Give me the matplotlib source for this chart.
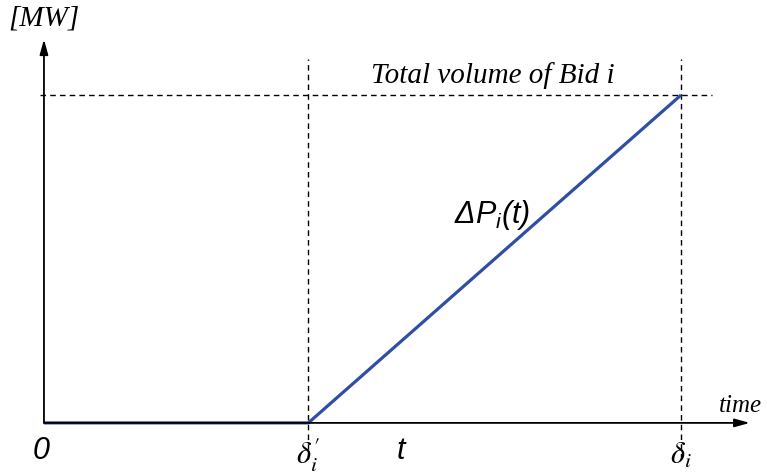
import matplotlib.pyplot as plt

# ramp of bid i: flat until delta'_i, then linear up to full volume at delta_i
ramp_time = [0.0, 4.15, 10.0]
ramp_power = [0.0, 0.0, 1.0]

t_start = ramp_time[1]
t_end = ramp_time[2]
full_volume = ramp_power[2]

blue = "#2f4fa5"

plt.rcParams["mathtext.fontset"] = "custom"
plt.rcParams["mathtext.rm"] = "Liberation Sans"
plt.rcParams["mathtext.it"] = "Liberation Sans:italic"

fig = plt.figure(figsize=(7.67, 4.76), dpi=100)
ax = fig.add_axes([0, 0, 1, 1])
ax.set_xlim(-0.69, 11.35)
ax.set_ylim(-0.162, 1.29)
ax.axis("off")

# axes with arrow heads
arrow = dict(arrowstyle="-|>,head_length=0.9,head_width=0.25", color="black",
             lw=1.3, shrinkA=0, shrinkB=0)
ax.annotate("", xy=(11.08, 0), xytext=(0, 0), arrowprops=arrow)
ax.annotate("", xy=(0, 1.17), xytext=(0, 0), arrowprops=arrow)

# dashed guides
ax.plot([-0.06, 10.49], [full_volume, full_volume], color="black", lw=1.0,
        ls=(0, (4, 3)))
for tx in (t_start, t_end):
    ax.plot([tx, tx], [-0.11, 1.11], color="black", lw=1.0, ls=(0, (4, 3)))

ax.plot(ramp_time, ramp_power, color=blue, lw=2.3, solid_capstyle="butt")

serif_it = dict(family="Liberation Serif", style="italic")
sans_it = dict(family="Liberation Sans", style="italic")

ax.text(0, 1.235, "[MW]", ha="center", va="center", fontsize=21, **serif_it)
ax.text(7.05, 1.06, "Total volume of Bid i", ha="center", va="center",
        fontsize=21, **serif_it)
ax.text(10.93, 0.052, "time", ha="center", va="center", fontsize=18,
        **serif_it)
ax.text(7.04, 0.635, "ΔP$_i$(t)", ha="center", va="center", fontsize=22,
        **sans_it)
ax.text(-0.05, -0.085, "0", ha="center", va="center", fontsize=22, **sans_it)
ax.text(5.6, -0.085, "t", ha="center", va="center", fontsize=22, **sans_it)
ax.text(t_start, -0.1, r"$\delta_i'$", ha="center", va="center", fontsize=22,
        math_fontfamily="stix")
ax.text(t_end, -0.1, r"$\delta_i$", ha="center", va="center", fontsize=22,
        math_fontfamily="stix")

fig.savefig("out.png", dpi=100)
